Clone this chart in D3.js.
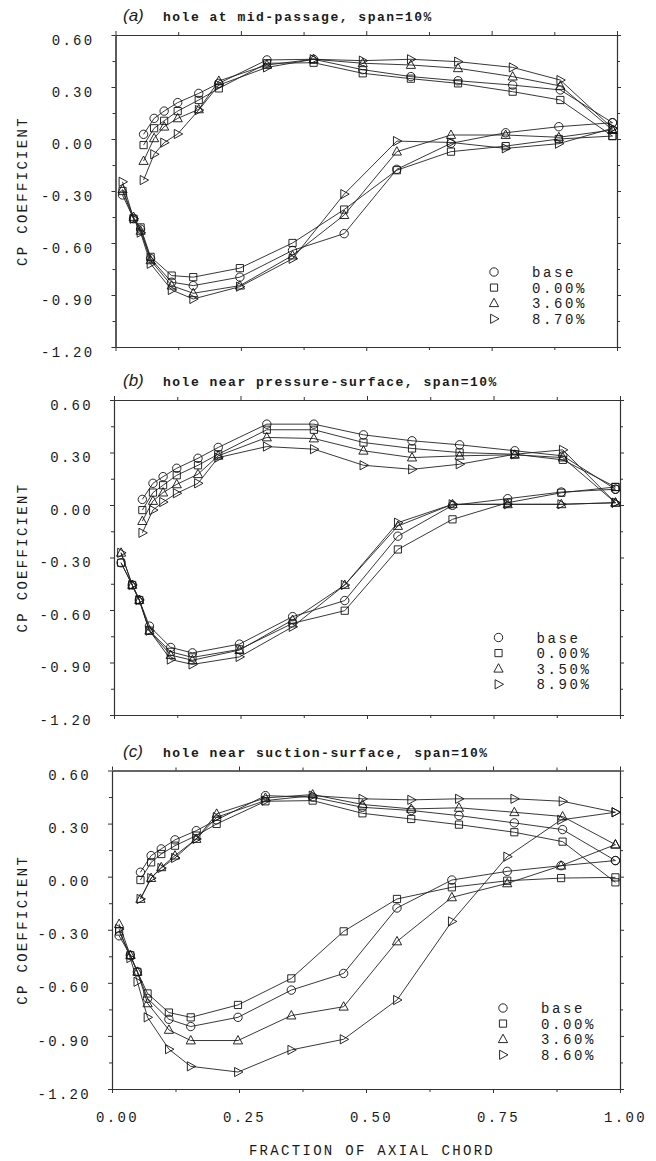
<!DOCTYPE html>
<html>
<head>
<meta charset="utf-8">
<script src="https://cdn.jsdelivr.net/npm/d3@7"></script>
<style>
  body { margin: 0; background: #fff; }
  svg { display: block; }
</style>
</head>
<body>
<svg id="chart" width="656" height="1161"></svg>
<script>
// Measurement stations (fraction of axial chord)
const xPressure = [0.056, 0.077, 0.097, 0.124, 0.166, 0.206, 0.302, 0.395, 0.493, 0.589, 0.683, 0.792, 0.887, 0.991];
const xSuction  = [0.014, 0.036, 0.050, 0.070, 0.112, 0.155, 0.248, 0.353, 0.456, 0.561, 0.669, 0.778, 0.884, 0.991];

// Axis ticks
const yMajorTicks = [-1.2, -0.9, -0.6, -0.3, 0.0, 0.3, 0.6];
const yMinorTicks = [-1.05, -0.75, -0.45, -0.15, 0.15, 0.45];
const xMajorTicks = [0, 0.25, 0.5, 0.75, 1.0];
const xMinorTicks = [0.125, 0.375, 0.625, 0.875];
const yTickLabels = ["-1.20", "-0.90", "-0.60", "-0.30", "0.00", "0.30", "0.60"];
const xTickLabels = ["0.00", "0.25", "0.50", "0.75", "1.00"];

// Panel titles and legend entries
const panelTitles = ["hole at mid-passage, span=10%", "hole near pressure-surface, span=10%", "hole near suction-surface, span=10%"];
const panelLetters = ["(a)", "(b)", "(c)"];
const legendA = ["base", "0.00%", "3.60%", "8.70%"];
const legendB = ["base", "0.00%", "3.50%", "8.90%"];
const legendC = ["base", "0.00%", "3.60%", "8.60%"];

// (a) hole at mid-passage
const aBaseP = [0.027, 0.119, 0.161, 0.210, 0.263, 0.321, 0.456, 0.460, 0.400, 0.360, 0.336, 0.311, 0.283, 0.094];
const aBaseS = [-0.323, -0.460, -0.520, -0.690, -0.826, -0.846, -0.797, -0.643, -0.546, -0.175, -0.025, 0.036, 0.071, 0.094];
const a000P  = [-0.035, 0.062, 0.105, 0.161, 0.225, 0.292, 0.437, 0.440, 0.379, 0.348, 0.321, 0.273, 0.225, 0.017];
const a000S  = [-0.300, -0.460, -0.510, -0.680, -0.788, -0.797, -0.745, -0.600, -0.407, -0.180, -0.073, -0.041, 0.000, 0.017];
const a360P  = [-0.127, 0.004, 0.071, 0.119, 0.171, 0.335, 0.427, 0.460, 0.437, 0.427, 0.408, 0.360, 0.306, 0.052];
const a360S  = [-0.290, -0.450, -0.530, -0.700, -0.846, -0.890, -0.846, -0.672, -0.439, -0.073, 0.023, 0.023, 0.010, 0.052];
const a870P  = [-0.237, -0.088, -0.021, 0.029, 0.167, 0.311, 0.413, 0.460, 0.452, 0.460, 0.446, 0.413, 0.340, 0.062];
const a870S  = [-0.247, -0.460, -0.540, -0.720, -0.871, -0.923, -0.852, -0.691, -0.318, -0.012, -0.020, -0.054, -0.027, 0.062];

// (b) hole near pressure-surface
const bBaseP = [0.032, 0.124, 0.162, 0.210, 0.267, 0.329, 0.462, 0.462, 0.401, 0.367, 0.344, 0.310, 0.281, 0.090];
const bBaseS = [-0.330, -0.457, -0.543, -0.692, -0.814, -0.845, -0.795, -0.638, -0.546, -0.178, -0.002, 0.036, 0.074, 0.090];
const b000P  = [-0.029, 0.071, 0.113, 0.170, 0.227, 0.290, 0.430, 0.430, 0.357, 0.323, 0.300, 0.290, 0.258, 0.103];
const b000S  = [-0.330, -0.457, -0.543, -0.718, -0.839, -0.871, -0.825, -0.676, -0.604, -0.254, -0.082, 0.013, 0.070, 0.103];
const b350P  = [-0.092, 0.023, 0.071, 0.118, 0.176, 0.281, 0.386, 0.380, 0.310, 0.271, 0.281, 0.287, 0.271, 0.013];
const b350S  = [-0.273, -0.457, -0.543, -0.718, -0.858, -0.887, -0.829, -0.657, -0.457, -0.120, 0.004, 0.004, 0.004, 0.013];
const b890P  = [-0.159, -0.029, 0.017, 0.067, 0.124, 0.271, 0.334, 0.319, 0.227, 0.204, 0.233, 0.290, 0.315, 0.013];
const b890S  = [-0.273, -0.457, -0.543, -0.718, -0.883, -0.911, -0.868, -0.696, -0.457, -0.101, 0.004, 0.004, 0.004, 0.013];

// (c) hole near suction-surface
const cBaseP = [0.025, 0.119, 0.157, 0.208, 0.260, 0.321, 0.458, 0.449, 0.392, 0.374, 0.345, 0.304, 0.266, 0.091];
const cBaseS = [-0.334, -0.444, -0.538, -0.688, -0.806, -0.847, -0.795, -0.641, -0.547, -0.177, -0.019, 0.030, 0.062, 0.091];
const c000P  = [-0.019, 0.081, 0.128, 0.175, 0.232, 0.298, 0.426, 0.430, 0.358, 0.326, 0.294, 0.251, 0.198, -0.032];
const c000S  = [-0.310, -0.444, -0.538, -0.660, -0.768, -0.795, -0.725, -0.575, -0.309, -0.126, -0.060, -0.023, -0.008, -0.004];
const c360P  = [-0.126, -0.008, 0.053, 0.119, 0.213, 0.355, 0.445, 0.464, 0.408, 0.383, 0.389, 0.364, 0.340, 0.181];
const c360S  = [-0.268, -0.444, -0.538, -0.716, -0.866, -0.926, -0.926, -0.785, -0.735, -0.366, -0.117, -0.038, 0.062, 0.181];
const c860P  = [-0.126, -0.008, 0.049, 0.106, 0.213, 0.336, 0.430, 0.458, 0.440, 0.434, 0.440, 0.440, 0.426, 0.364];
const c860S  = [-0.296, -0.460, -0.594, -0.795, -0.975, -1.072, -1.104, -0.979, -0.919, -0.697, -0.253, 0.113, 0.321, 0.364];

const markerKinds = ["circle", "square", "up", "right"];

// Page layout for the three stacked panels
const panels = [
  { letter: panelLetters[0], title: panelTitles[0], legend: legendA,
    series: [[aBaseP, aBaseS], [a000P, a000S], [a360P, a360S], [a870P, a870S]],
    box: { left: 115.5, right: 617, top: 35, bottom: 347 }, legendPos: { x: 494, y: 272 }, xLabels: false },
  { letter: panelLetters[1], title: panelTitles[1], legend: legendB,
    series: [[bBaseP, bBaseS], [b000P, b000S], [b350P, b350S], [b890P, b890S]],
    box: { left: 114, right: 620, top: 400, bottom: 715 }, legendPos: { x: 498.5, y: 637.5 }, xLabels: false },
  { letter: panelLetters[2], title: panelTitles[2], legend: legendC,
    series: [[cBaseP, cBaseS], [c000P, c000S], [c360P, c360S], [c860P, c860S]],
    box: { left: 112, right: 620, top: 770.5, bottom: 1089 }, legendPos: { x: 503, y: 1008 }, xLabels: true }
];

const MONO = "'Liberation Mono', 'DejaVu Sans Mono', monospace";
const INK = "#1a1a1a";
const svg = d3.select("#chart");

// Hollow marker outlines centred on (0,0)
function markerPath(kind) {
  const p = d3.path();
  if (kind === "circle") {
    p.arc(0, 0, 4.2, 0, 2 * Math.PI);
  } else if (kind === "square") {
    p.rect(-3.6, -3.6, 7.2, 7.2);
  } else if (kind === "up") {
    p.moveTo(0, -5); p.lineTo(4.6, 3.4); p.lineTo(-4.6, 3.4); p.closePath();
  } else {
    p.moveTo(5, 0); p.lineTo(-3.4, -4.6); p.lineTo(-3.4, 4.6); p.closePath();
  }
  return p.toString();
}

function styleAxis(g) {
  g.selectAll(".domain").attr("stroke", "#333").attr("stroke-width", 1.1);
  g.selectAll(".tick line").attr("stroke", "#333").attr("stroke-width", 1);
  g.selectAll(".tick text")
    .attr("fill", INK)
    .style("font-family", MONO)
    .style("font-size", "14px")
    .style("letter-spacing", "2.3px");
}

panels.forEach(panel => {
  const b = panel.box;
  const x = d3.scaleLinear().domain([0, 1]).range([b.left, b.right]);
  const y = d3.scaleLinear().domain([-1.2, 0.6]).range([b.bottom, b.top]);
  const g = svg.append("g");

  // Title: italic panel letter followed by bold monospace caption
  g.append("text")
    .attr("x", 123).attr("y", b.top - 14)
    .style("font-family", "'Liberation Sans', Arial, sans-serif")
    .style("font-style", "italic")
    .style("font-size", "17px")
    .attr("fill", INK)
    .text(panel.letter);
  g.append("text")
    .attr("x", 163).attr("y", b.top - 14)
    .style("font-family", MONO)
    .style("font-weight", "bold")
    .style("font-size", "13px")
    .style("letter-spacing", "1.5px")
    .attr("fill", INK)
    .text(panel.title);

  // Left axis with labels, minor ticks, and mirrored right axis
  const left = g.append("g").attr("transform", `translate(${b.left},0)`)
    .call(d3.axisLeft(y).tickValues(yMajorTicks).tickSize(4).tickSizeOuter(0).tickPadding(17)
      .tickFormat((d, i) => yTickLabels[i]));
  left.selectAll(".tick text").attr("dy", "0.65em");
  styleAxis(left);
  const leftMinor = g.append("g").attr("transform", `translate(${b.left},0)`)
    .call(d3.axisLeft(y).tickValues(yMinorTicks).tickSize(3).tickSizeOuter(0).tickFormat(""));
  styleAxis(leftMinor);

  const right = g.append("g").attr("transform", `translate(${b.right},0)`)
    .call(d3.axisRight(y).tickValues(yMajorTicks).tickSize(4).tickSizeOuter(0).tickFormat(""));
  styleAxis(right);
  const rightMinor = g.append("g").attr("transform", `translate(${b.right},0)`)
    .call(d3.axisRight(y).tickValues(yMinorTicks).tickSize(3).tickSizeOuter(0).tickFormat(""));
  styleAxis(rightMinor);

  // Top and bottom axes
  const top = g.append("g").attr("transform", `translate(0,${b.top})`)
    .call(d3.axisTop(x).tickValues(xMajorTicks).tickSize(4).tickSizeOuter(0).tickFormat(""));
  styleAxis(top);
  const topMinor = g.append("g").attr("transform", `translate(0,${b.top})`)
    .call(d3.axisTop(x).tickValues(xMinorTicks).tickSize(3).tickSizeOuter(0).tickFormat(""));
  styleAxis(topMinor);

  const bottom = g.append("g").attr("transform", `translate(0,${b.bottom})`)
    .call(d3.axisBottom(x).tickValues(xMajorTicks).tickSize(4).tickSizeOuter(0).tickPadding(19)
      .tickFormat((d, i) => panel.xLabels ? xTickLabels[i] : ""));
  bottom.selectAll(".tick text").attr("dx", 5);
  styleAxis(bottom);
  const bottomMinor = g.append("g").attr("transform", `translate(0,${b.bottom})`)
    .call(d3.axisBottom(x).tickValues(xMinorTicks).tickSize(3).tickSizeOuter(0).tickFormat(""));
  styleAxis(bottomMinor);

  // Y axis title
  g.append("text")
    .attr("transform", `translate(27,${(b.top + b.bottom) / 2}) rotate(-90)`)
    .attr("text-anchor", "middle")
    .style("font-family", MONO)
    .style("font-size", "14px")
    .style("letter-spacing", "2.3px")
    .attr("fill", INK)
    .text("CP COEFFICIENT");

  // Curves: pressure-side and suction-side traces for each case
  const line = d3.line().x(d => x(d[0])).y(d => y(d[1]));
  panel.series.forEach((pair, si) => {
    const kind = markerKinds[si];
    [[xPressure, pair[0]], [xSuction, pair[1]]].forEach(([xs, ys]) => {
      const pts = d3.zip(xs, ys);
      g.append("path")
        .attr("d", line(pts))
        .attr("fill", "none")
        .attr("stroke", "#222")
        .attr("stroke-width", 0.9);
      g.selectAll(null).data(pts).enter().append("path")
        .attr("d", markerPath(kind))
        .attr("transform", d => `translate(${x(d[0])},${y(d[1])})`)
        .attr("fill", "none")
        .attr("stroke", "#111")
        .attr("stroke-width", 0.9);
    });
  });

  // Legend
  panel.legend.forEach((name, i) => {
    const ly = panel.legendPos.y + i * 15.6;
    g.append("path")
      .attr("d", markerPath(markerKinds[i]))
      .attr("transform", `translate(${panel.legendPos.x},${ly})`)
      .attr("fill", "none")
      .attr("stroke", "#111")
      .attr("stroke-width", 0.9);
    g.append("text")
      .attr("x", panel.legendPos.x + 38).attr("y", ly + 5)
      .style("font-family", MONO)
      .style("font-size", "14px")
      .style("letter-spacing", "2.6px")
      .attr("fill", INK)
      .text(name);
  });
});

// X axis title below the last panel
svg.append("text")
  .attr("x", 372).attr("y", 1155)
  .attr("text-anchor", "middle")
  .style("font-family", MONO)
  .style("font-size", "14px")
  .style("letter-spacing", "2.3px")
  .attr("fill", INK)
  .text("FRACTION OF AXIAL CHORD");
</script>
</body>
</html>
